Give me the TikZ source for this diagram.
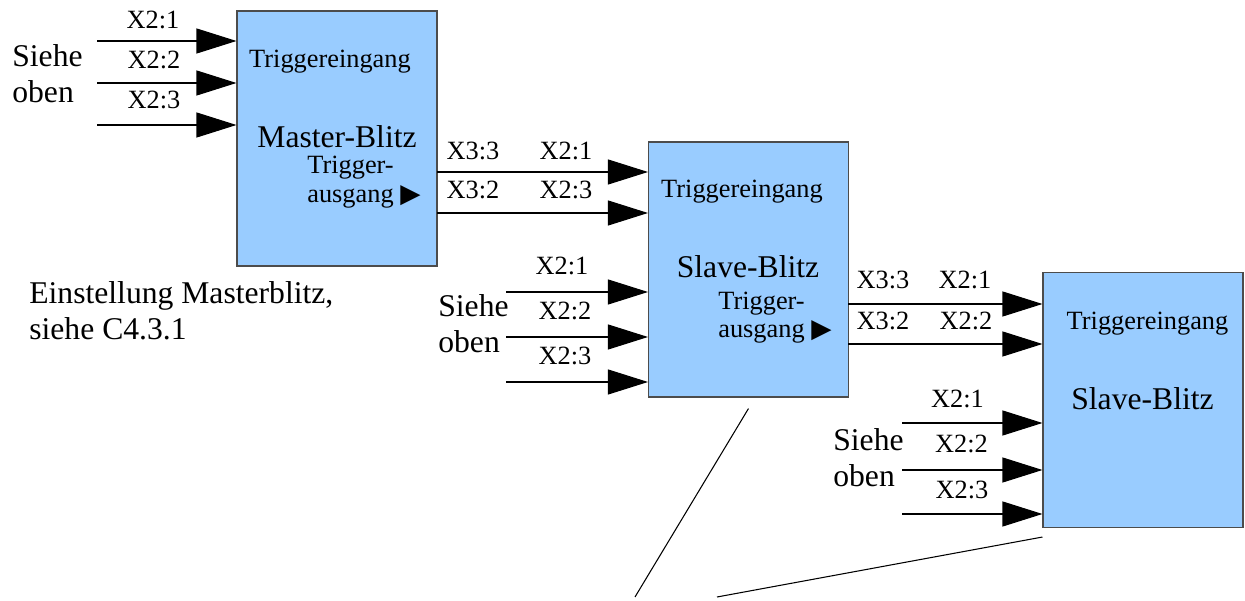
\documentclass[tikz,border=0pt]{standalone}
\usepackage{fontspec}
\setmainfont{Liberation Serif}
\newfontfamily\symbfont{DejaVu Sans}
\usetikzlibrary{arrows.meta}
\definecolor{blitzblau}{HTML}{99CCFF}
\tikzset{
  blitz/.style={draw=black!70, fill=blitzblau, line width=0.6pt, minimum width=4cm, minimum height=5.1cm, inner sep=0pt},
  pfeil/.style={line width=0.6pt, -{Triangle[length=8mm,width=5mm]}},
  linie/.style={line width=0.6pt},
  klein/.style={font=\fontsize{15}{16.5}\selectfont, inner sep=0pt, anchor=base},
  gross/.style={font=\fontsize{18}{20.5}\selectfont, inner sep=0pt, anchor=base},
}

\begin{document}
\begin{tikzpicture}
        \useasboundingbox (0,0) rectangle (24.9,-12.02);
        \node[blitz] (master) at (6.74,-2.77) {};
        \node[blitz] (slave1) at (14.97,-5.39) {};
        \node[blitz] (slave2) at (22.86,-8.0) {};

        \node[klein] (ein1) at (6.6,-1.36) {Triggereingang};
        \node[gross] (name1) at (6.74,-2.96) {Master-Blitz};
        \node[klein,anchor=base west,align=left] (aus1) at (6.14,-4.06) {Trigger-\\ausgang {\symbfont ▶}};
        \node[klein] (ein2) at (14.84,-3.96) {Triggereingang};
        \node[gross] (name2) at (14.96,-5.56) {Slave-Blitz};
        \node[klein,anchor=base west,align=left] (aus2) at (14.36,-6.76) {Trigger-\\ausgang {\symbfont ▶}};
        \node[klein] (ein3) at (22.95,-6.6) {Triggereingang};
        \node[gross] (name3) at (22.85,-8.2) {Slave-Blitz};

        \coordinate (m1) at (1.94,-0.82);
        \coordinate (m2) at (1.94,-1.66);
        \coordinate (m3) at (1.94,-2.5);
        \draw[pfeil] (m1) -- (m1 -| master.west);
        \draw[pfeil] (m2) -- (m2 -| master.west);
        \draw[pfeil] (m3) -- (m3 -| master.west);
        \node[klein] (l11) at (3.06,-0.566) {X2:1};
        \node[klein] (l12) at (3.08,-1.366) {X2:2};
        \node[klein] (l13) at (3.08,-2.166) {X2:3};
        \node[gross,anchor=base west,align=left] (siehe1) at (0.24,-2.06) {Siehe\\oben};

        \coordinate (a1) at (8.74,-3.44);
        \coordinate (a2) at (8.74,-4.26);
        \draw[pfeil] (a1) -- (a1 -| slave1.west);
        \draw[pfeil] (a2) -- (a2 -| slave1.west);
        \node[klein] (l21) at (9.46,-3.186) {X3:3};
        \node[klein] (l22) at (11.32,-3.186) {X2:1};
        \node[klein] (l23) at (9.46,-3.98) {X3:2};
        \node[klein] (l24) at (11.32,-3.98) {X2:3};

        \coordinate (s1) at (10.12,-5.84);
        \coordinate (s2) at (10.12,-6.74);
        \coordinate (s3) at (10.12,-7.64);
        \draw[pfeil] (s1) -- (s1 -| slave1.west);
        \draw[pfeil] (s2) -- (s2 -| slave1.west);
        \draw[pfeil] (s3) -- (s3 -| slave1.west);
        \node[klein] (l31) at (11.24,-5.5) {X2:1};
        \node[klein] (l32) at (11.3,-6.4) {X2:2};
        \node[klein] (l33) at (11.3,-7.3) {X2:3};
        \node[gross,anchor=base west,align=left] (siehe2) at (8.76,-7.06) {Siehe\\oben};

        \coordinate (b1) at (16.96,-6.08);
        \coordinate (b2) at (16.96,-6.88);
        \draw[pfeil] (b1) -- (b1 -| slave2.west);
        \draw[pfeil] (b2) -- (b2 -| slave2.west);
        \node[klein] (l41) at (17.66,-5.78) {X3:3};
        \node[klein] (l42) at (19.3,-5.78) {X2:1};
        \node[klein] (l43) at (17.66,-6.6) {X3:2};
        \node[klein] (l44) at (19.32,-6.6) {X2:2};

        \coordinate (t1) at (18.04,-8.46);
        \coordinate (t2) at (18.04,-9.4);
        \coordinate (t3) at (18.04,-10.28);
        \draw[pfeil] (t1) -- (t1 -| slave2.west);
        \draw[pfeil] (t2) -- (t2 -| slave2.west);
        \draw[pfeil] (t3) -- (t3 -| slave2.west);
        \node[klein] (l51) at (19.15,-8.16) {X2:1};
        \node[klein] (l52) at (19.23,-9.06) {X2:2};
        \node[klein] (l53) at (19.24,-9.98) {X2:3};
        \node[gross,anchor=base west,align=left] (siehe3) at (16.66,-9.74) {Siehe\\oben};

        \node[gross,anchor=base west,align=left] (einst) at (0.58,-6.8) {Einstellung Masterblitz,\\siehe C4.3.1};

        \coordinate (d1) at (12.7,-11.94);
        \coordinate (d2) at (14.34,-11.94);
        \draw[linie] ([yshift=-0.22cm]slave1.south) -- (d1);
        \draw[linie] ([yshift=-0.18cm]slave2.south west) -- (d2);
\end{tikzpicture}
\end{document}
